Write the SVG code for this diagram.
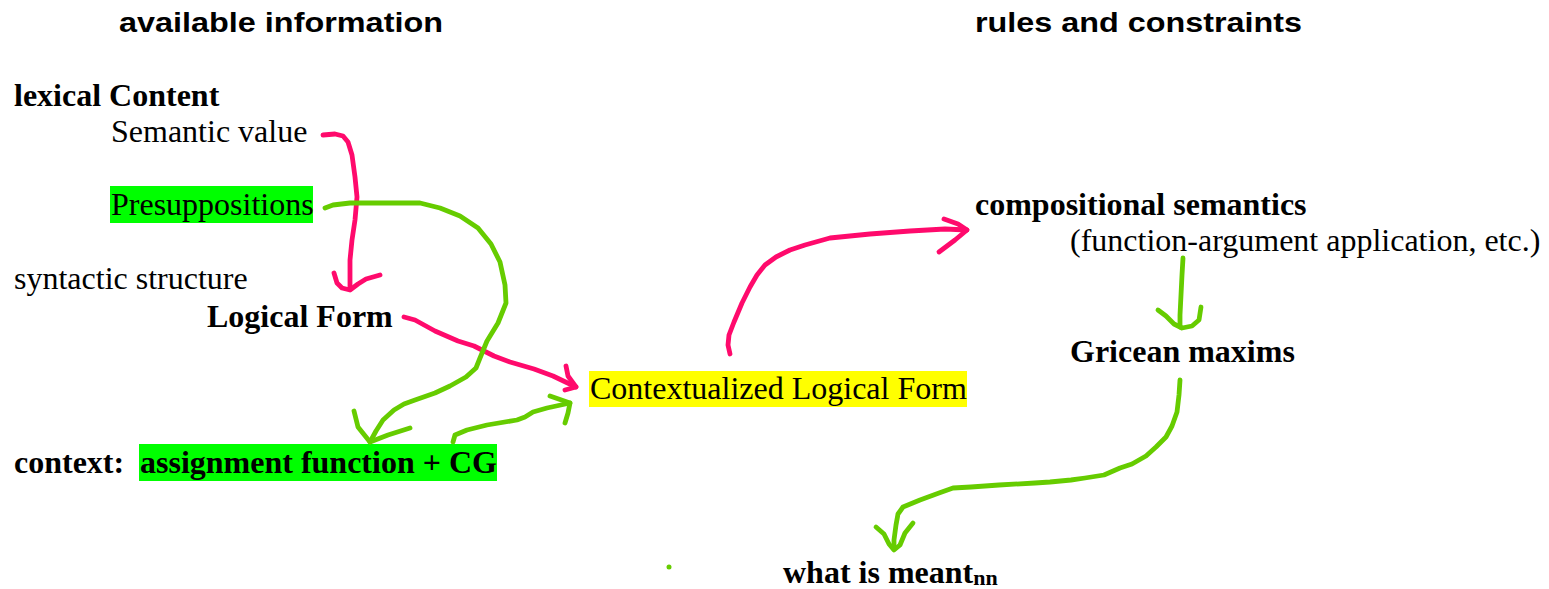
<svg xmlns="http://www.w3.org/2000/svg" width="1549" height="589" viewBox="0 0 1549 589">
  <style>
    .title { font-family: "Liberation Sans", Arial, sans-serif; font-weight: bold; font-size: 27px; fill: #000; }
    .t { font-family: "Liberation Serif", "Times New Roman", serif; font-size: 32px; fill: #000; }
    .b { font-weight: bold; }
    .hl-green { fill: #00ff00; }
    .hl-yellow { fill: #ffff00; }
    .ink { fill: none; stroke-width: 4.8; stroke-linecap: round; stroke-linejoin: round; }
    .pink { stroke: #ff0a6c; }
    .green { stroke: #66cc00; }
  </style>

  <rect width="1549" height="589" fill="#ffffff"/>

  <!-- column headings -->
  <g id="heading-left">
    <text class="title" x="119" y="32" textLength="324" lengthAdjust="spacingAndGlyphs">available information</text>
  </g>
  <g id="heading-right">
    <text class="title" x="975" y="32" textLength="327" lengthAdjust="spacingAndGlyphs">rules and constraints</text>
  </g>

  <!-- left column: available information -->
  <g id="lexical-content">
    <text class="t b" x="14" y="106">lexical Content</text>
  </g>
  <g id="semantic-value">
    <text class="t" x="111" y="142">Semantic value</text>
  </g>
  <g id="presuppositions">
    <rect class="hl-green" x="110" y="186" width="203" height="37"/>
    <text class="t" x="111" y="215">Presuppositions</text>
  </g>
  <g id="syntactic-structure">
    <text class="t" x="14" y="289">syntactic structure</text>
  </g>
  <g id="logical-form">
    <text class="t b" x="207" y="327">Logical Form</text>
  </g>
  <g id="context">
    <text class="t b" x="14" y="473">context:</text>
    <rect class="hl-green" x="139" y="444" width="358" height="37"/>
    <text class="t b" x="140" y="473">assignment function + CG</text>
  </g>

  <!-- centre -->
  <g id="contextualized-lf">
    <rect class="hl-yellow" x="589" y="371" width="378" height="36"/>
    <text class="t" x="590" y="399">Contextualized Logical Form</text>
  </g>

  <!-- right column: rules and constraints -->
  <g id="compositional-semantics">
    <text class="t b" x="975" y="215">compositional semantics</text>
    <text class="t" x="1070" y="251">(function-argument application, etc.)</text>
  </g>
  <g id="gricean-maxims">
    <text class="t b" x="1070" y="362">Gricean maxims</text>
  </g>
  <g id="what-is-meant">
    <text class="t b" x="783" y="583" font-size="31">what is meant<tspan font-size="22" dy="2">nn</tspan></text>
  </g>

  <!-- hand-drawn connectors -->
  <g id="connectors">
    <!-- Semantic value -> Logical Form -->
    <path class="ink pink" d="M323,135 L335,134 L343,136 L348,142 L352,155 L355,177 L357,197 L355,220 L352,240 L350,260 L350,289"/>
    <path class="ink pink" d="M334,273 L337,283 L342,288 L350,290 L358,284 L366,279 L380,275"/>

    <!-- Logical Form -> Contextualized Logical Form -->
    <path class="ink pink" d="M404,317 L415,320 L435,331 L458,341 L474,346 L494,356 L510,362 L534,369 L553,376 L576,387"/>
    <path class="ink pink" d="M566,366 L568,376 L576,387 L565,390"/>

    <!-- Contextualized Logical Form -> compositional semantics -->
    <path class="ink pink" d="M730,354 L728,345 L729,335 L734,322 L742,303 L750,287 L757,275 L765,265 L776,257 L790,250 L805,245 L830,238 L870,234 L910,231 L945,229 L967,230"/>
    <path class="ink pink" d="M944,219 L958,224 L967,230 L955,240 L939,252"/>

    <!-- Presuppositions -> context -->
    <path class="ink green" d="M325,208 L333,205 L350,203 L420,203 L440,208 L460,216 L478,228 L491,244 L500,262 L505,285 L506,303 L498,323 L487,341 L480,358 L476,368 L466,377 L450,386 L435,393 L415,400 L404,404 L394,410 L383,420 L376,431 L370,442"/>
    <path class="ink green" d="M354,411 L358,427 L370,442 L388,435 L410,428"/>

    <!-- context -> Contextualized Logical Form -->
    <path class="ink green" d="M453,442 L455,435 L467,430 L487,425 L517,420 L525,417 L533,412 L547,408 L570,403"/>
    <path class="ink green" d="M550,396 L570,403 L568,413 L565,423"/>

    <!-- compositional semantics -> Gricean maxims -->
    <path class="ink green" d="M1183,258 L1182,275 L1181,295 L1180,315 L1180,327"/>
    <path class="ink green" d="M1158,310 L1166,316 L1174,324 L1182,328 L1192,326 L1199,320 L1201,307"/>

    <!-- Gricean maxims -> what is meant -->
    <path class="ink green" d="M1180,380 L1179,395 L1177,412 L1172,426 L1166,437 L1156,447 L1146,456 L1132,464 L1120,468 L1104,475 L1085,478 L1071,480 L1050,482 L1035,483 L999,485 L971,487 L953,488 L939,493 L920,500 L903,507 L898,514 L896,525 L894,540 L894,548"/>
    <path class="ink green" d="M876,527 L884,534 L889,544 L894,550 L900,545 L905,533 L913,523"/>

    <!-- stray ink dot -->
    <circle cx="669" cy="567" r="2.5" fill="#66cc00"/>
  </g>
</svg>
